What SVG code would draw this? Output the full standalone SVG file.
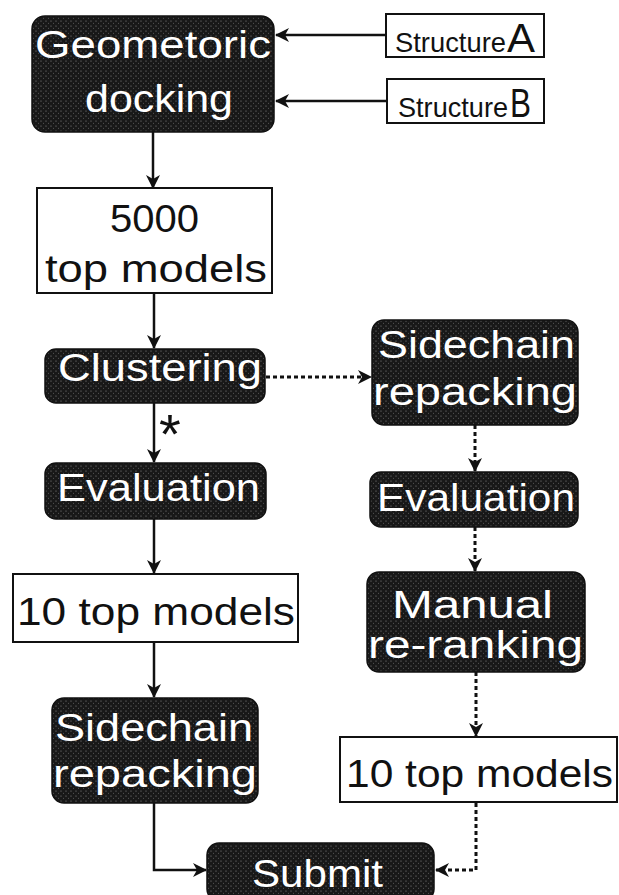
<svg xmlns="http://www.w3.org/2000/svg" width="619" height="895" viewBox="0 0 619 895">
<style>
.dark{fill:url(#stip);stroke:#111;stroke-width:1.5}
.light{fill:#fff;stroke:#111;stroke-width:2}
.wt{fill:#fff;font-family:"Liberation Sans",Arial,sans-serif;font-size:38px;text-anchor:start}
.bt{fill:#111;font-family:"Liberation Sans",Arial,sans-serif;font-size:39px}
.st{fill:#111;font-family:"Liberation Sans",Arial,sans-serif}
.solid{fill:none;stroke:#111;stroke-width:2.5}
.dot{fill:none;stroke:#111;stroke-width:3;stroke-dasharray:4 3}
</style>
<defs>
<pattern id="stip" width="5" height="5" patternUnits="userSpaceOnUse">
<rect width="5" height="5" fill="#181818"/>
<circle cx="1" cy="1" r="0.6" fill="#8a8a8a"/>
<circle cx="3.5" cy="3.2" r="0.5" fill="#666"/>
</pattern>
<marker id="ah" viewBox="0 0 14 14" refX="13" refY="7" markerWidth="14" markerHeight="14" markerUnits="userSpaceOnUse" orient="auto">
<path d="M0,0 L14,7 L0,14 L4,7 Z" fill="#111"/>
</marker>
</defs>

<g id="connectors">
<line class="solid" x1="386" y1="35" x2="276" y2="35" marker-end="url(#ah)"/>
<line class="solid" x1="387" y1="101" x2="276" y2="101" marker-end="url(#ah)"/>
<line class="solid" x1="153" y1="132" x2="153" y2="188" marker-end="url(#ah)"/>
<line class="solid" x1="154" y1="293" x2="154" y2="348" marker-end="url(#ah)"/>
<line class="dot" x1="266" y1="377" x2="371" y2="377" marker-end="url(#ah)"/>
<line class="solid" x1="154" y1="403" x2="154" y2="462" marker-end="url(#ah)"/>
<line class="solid" x1="154" y1="519" x2="154" y2="573" marker-end="url(#ah)"/>
<line class="solid" x1="154" y1="642" x2="154" y2="697" marker-end="url(#ah)"/>
<polyline class="solid" points="154,803 154,870 206,870" marker-end="url(#ah)"/>
<line class="dot" x1="475" y1="425" x2="475" y2="471" marker-end="url(#ah)"/>
<line class="dot" x1="475" y1="527" x2="475" y2="571" marker-end="url(#ah)"/>
<line class="dot" x1="476" y1="672" x2="476" y2="736" marker-end="url(#ah)"/>
<polyline class="dot" points="476,803 476,870 436,870" marker-end="url(#ah)"/>
<text class="st" x="159" y="453" font-size="56">*</text>
</g>

<g id="geometoric-docking">
<rect class="dark" x="32" y="16" width="242" height="116" rx="13"/>
<text class="wt" x="35" y="58" textLength="236" lengthAdjust="spacingAndGlyphs">Geometoric</text>
<text class="wt" x="85" y="112" textLength="148" lengthAdjust="spacingAndGlyphs">docking</text>
</g>

<g id="structure-a">
<rect class="light" x="386" y="14" width="158" height="43"/>
<text class="st" y="52"><tspan x="395" font-size="28" textLength="111" lengthAdjust="spacingAndGlyphs">Structure</tspan><tspan x="507" font-size="40" textLength="28" lengthAdjust="spacingAndGlyphs">A</tspan></text>
</g>

<g id="structure-b">
<rect class="light" x="387" y="79" width="157" height="44"/>
<text class="st" y="117"><tspan x="398" font-size="28" textLength="110" lengthAdjust="spacingAndGlyphs">Structure</tspan><tspan x="510" font-size="40" textLength="21" lengthAdjust="spacingAndGlyphs">B</tspan></text>
</g>

<g id="top5000">
<rect class="light" x="37" y="188" width="235" height="105"/>
<text class="bt" x="110" y="232" textLength="89" lengthAdjust="spacingAndGlyphs">5000</text>
<text class="bt" x="45" y="282" textLength="222" lengthAdjust="spacingAndGlyphs">top models</text>
</g>

<g id="clustering">
<rect class="dark" x="45" y="349" width="220" height="54" rx="11"/>
<text class="wt" x="58" y="381" textLength="204" lengthAdjust="spacingAndGlyphs">Clustering</text>
</g>

<g id="sidechain-right">
<rect class="dark" x="372" y="320" width="206" height="105" rx="12"/>
<text class="wt" x="378" y="358" textLength="197" lengthAdjust="spacingAndGlyphs">Sidechain</text>
<text class="wt" x="373" y="405" textLength="204" lengthAdjust="spacingAndGlyphs">repacking</text>
</g>

<g id="evaluation-left">
<rect class="dark" x="45" y="463" width="221" height="56" rx="11"/>
<text class="wt" x="57" y="501" textLength="203" lengthAdjust="spacingAndGlyphs">Evaluation</text>
</g>

<g id="evaluation-right">
<rect class="dark" x="370" y="472" width="208" height="55" rx="11"/>
<text class="wt" x="377" y="511" textLength="198" lengthAdjust="spacingAndGlyphs">Evaluation</text>
</g>

<g id="top10-left">
<rect class="light" x="13" y="574" width="285" height="68"/>
<text class="bt" x="17" y="625" textLength="278" lengthAdjust="spacingAndGlyphs">10 top models</text>
</g>

<g id="manual-reranking">
<rect class="dark" x="367" y="572" width="218" height="100" rx="12"/>
<text class="wt" x="392" y="618" textLength="161" lengthAdjust="spacingAndGlyphs">Manual</text>
<text class="wt" x="368" y="658" textLength="215" lengthAdjust="spacingAndGlyphs">re-ranking</text>
</g>

<g id="sidechain-left">
<rect class="dark" x="52" y="698" width="206" height="105" rx="12"/>
<text class="wt" x="55" y="741" textLength="198" lengthAdjust="spacingAndGlyphs">Sidechain</text>
<text class="wt" x="53" y="787" textLength="204" lengthAdjust="spacingAndGlyphs">repacking</text>
</g>

<g id="top10-right">
<rect class="light" x="340" y="737" width="277" height="65"/>
<text class="bt" x="346" y="787" textLength="267" lengthAdjust="spacingAndGlyphs">10 top models</text>
</g>

<g id="submit">
<rect class="dark" x="207" y="843" width="227" height="58" rx="12"/>
<text class="wt" x="252" y="887" font-size="44" textLength="131" lengthAdjust="spacingAndGlyphs">Submit</text>
</g>
</svg>
